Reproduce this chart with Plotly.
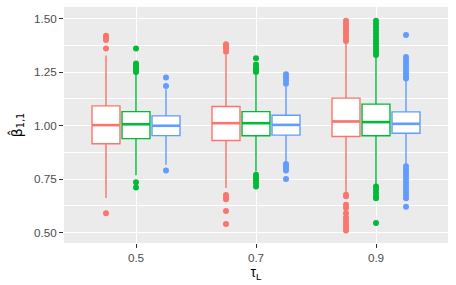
import plotly.graph_objects as go

categories = ["0.5", "0.7", "0.9"]
series = ["A", "B", "C"]
colors = ["#F8766D", "#00BA38", "#619CFF"]

# per series: values across categories
q1 = {"A": [0.915, 0.930, 0.949], "B": [0.939, 0.952, 0.952], "C": [0.953, 0.955, 0.964]}
median = {"A": [1.002, 1.011, 1.019], "B": [1.006, 1.011, 1.016], "C": [0.999, 1.003, 1.008]}
q3 = {"A": [1.092, 1.089, 1.128], "B": [1.065, 1.065, 1.100], "C": [1.045, 1.048, 1.064]}
lower = {"A": [0.661, 0.708, 0.684], "B": [0.768, 0.785, 0.723], "C": [0.817, 0.832, 0.817]}
upper = {"A": [1.327, 1.330, 1.390], "B": [1.245, 1.237, 1.320], "C": [1.170, 1.182, 1.213]}

outliers = {
    "A": [
        [1.42, 1.415, 1.41, 1.40, 1.36, 0.59],
        [1.38, 1.37, 1.36, 1.345, 0.675, 0.665, 0.655, 0.60, 0.54],
        [1.49, 1.475, 1.46, 1.45, 1.435, 1.42, 1.405, 1.395,
         0.677, 0.67, 0.63, 0.615, 0.59, 0.57, 0.555, 0.54, 0.525, 0.51],
    ],
    "B": [
        [1.36, 1.29, 1.28, 1.27, 1.26, 1.25, 0.735, 0.71],
        [1.315, 1.285, 1.27, 1.26, 1.25, 0.77, 0.76, 0.745, 0.73, 0.715],
        [1.49, 1.475, 1.46, 1.445, 1.43, 1.415, 1.40, 1.385, 1.37,
         1.355, 1.34, 1.33, 0.715, 0.70, 0.685, 0.67, 0.66, 0.545],
    ],
    "C": [
        [1.225, 1.185, 0.79],
        [1.24, 1.225, 1.21, 1.195, 0.82, 0.81, 0.80, 0.79, 0.75],
        [1.423, 1.32, 1.305, 1.29, 1.275, 1.26, 1.245, 1.23, 1.22,
         0.81, 0.795, 0.78, 0.765, 0.75, 0.735, 0.72, 0.705, 0.69,
         0.675, 0.66, 0.62],
    ],
}

dodge = [-0.25, 0.0, 0.25]
box_w = 0.233

fig = go.Figure()
for si, s in enumerate(series):
    xs = [ci + 1 + dodge[si] for ci in range(len(categories))]
    fig.add_trace(go.Box(
        x=xs, q1=q1[s], median=median[s], q3=q3[s],
        lowerfence=lower[s], upperfence=upper[s],
        width=box_w, whiskerwidth=0, fillcolor="white",
        line=dict(color=colors[si], width=1.4),
        boxpoints=False, showlegend=False, hoverinfo="skip",
    ))
    # thicker median line
    mx, my = [], []
    for ci in range(len(categories)):
        mx += [xs[ci] - box_w / 2, xs[ci] + box_w / 2, None]
        my += [median[s][ci], median[s][ci], None]
    fig.add_trace(go.Scatter(x=mx, y=my, mode="lines",
                             line=dict(color=colors[si], width=2.6),
                             showlegend=False, hoverinfo="skip"))
    ox, oy = [], []
    for ci in range(len(categories)):
        ox += [xs[ci]] * len(outliers[s][ci])
        oy += outliers[s][ci]
    fig.add_trace(go.Scatter(x=ox, y=oy, mode="markers",
                             marker=dict(color=colors[si], size=6),
                             showlegend=False, hoverinfo="skip"))

font = "Liberation Sans, Arial, sans-serif"
fig.update_layout(
    width=456, height=285,
    margin=dict(l=64, r=8, t=7, b=42),
    paper_bgcolor="white", plot_bgcolor="#EBEBEB",
    font=dict(family=font, color="#4D4D4D", size=11.7),
    xaxis=dict(
        range=[0.4, 3.6], tickvals=[1, 2, 3], ticktext=categories,
        showgrid=True, gridcolor="white", gridwidth=1.1, zeroline=False,
        ticks="outside", ticklen=4, tickcolor="#333333", tickwidth=1.1,
        tickfont=dict(color="#4D4D4D", size=11.7), automargin=False,
        title=dict(text="τ<sub>L</sub>", font=dict(color="black", size=14), standoff=2),
    ),
    yaxis=dict(
        range=[0.451, 1.554], tickvals=[0.5, 0.75, 1.0, 1.25, 1.5], tickformat=".2f",
        showgrid=True, gridcolor="white", gridwidth=1.1, zeroline=False,
        ticks="outside", ticklen=4, tickcolor="#333333", tickwidth=1.1,
        tickfont=dict(color="#4D4D4D", size=11.7), automargin=False,
        minor=dict(tickvals=[0.625, 0.875, 1.125, 1.375], showgrid=True,
                   gridcolor="white", gridwidth=0.55),
        title=dict(text="β\u0302<sub>1,1</sub>",
                   font=dict(color="black", size=14, family="DejaVu Sans"), standoff=8),
    ),
)

fig.write_html("out.html", config={"displayModeBar": False},
               post_script="document.body.style.margin='0';")
